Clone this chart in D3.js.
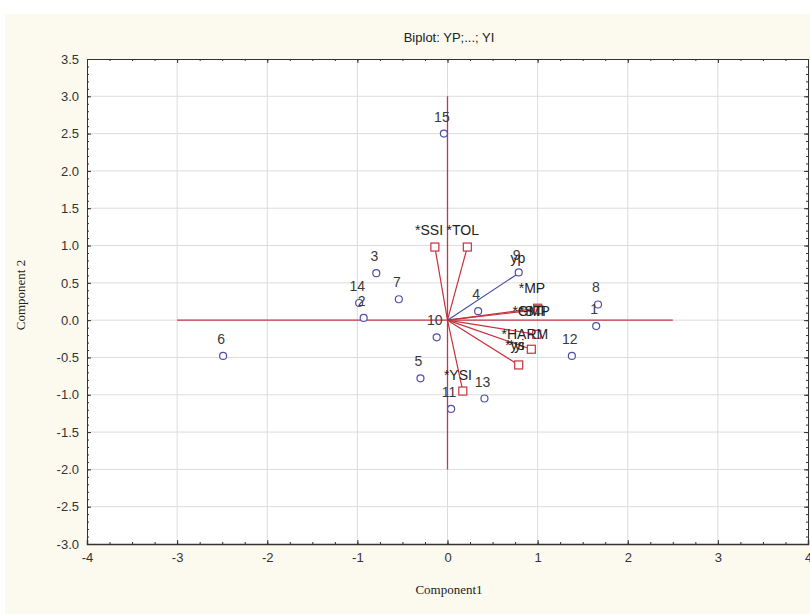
<!DOCTYPE html>
<html>
<head>
<meta charset="utf-8">
<script src="https://cdn.jsdelivr.net/npm/d3@7"></script>
<style>
  body { margin: 0; background: #fff; }
  text { font-family: 'Liberation Sans', Arial, sans-serif; }
</style>
</head>
<body>
<svg id="chart" width="810" height="614"></svg>
<script>
'use strict';

// cases (blue circles)
const caseIds = ['1', '2', '3', '4', '5', '6', '7', '8', '9', '10', '11', '12', '13', '14', '15'];
const caseX = [1.65, -0.93, -0.79, 0.34, -0.3, -2.49, -0.54, 1.67, 0.79, -0.12, 0.04, 1.38, 0.41, -0.98, -0.04];
const caseY = [-0.08, 0.03, 0.63, 0.12, -0.78, -0.48, 0.28, 0.21, 0.64, -0.23, -1.19, -0.48, -1.05, 0.23, 2.5];

// variables (red squares + vectors from origin)
const varNames = ['SSI', 'TOL', 'GMP', 'STI', 'HARM', 'ys', 'yi', 'YSI'];
const varX = [-0.14, 0.22, 1.0, 1.01, 0.99, 0.93, 0.79, 0.17];
const varY = [0.98, 0.98, 0.16, 0.14, -0.19, -0.39, -0.6, -0.95];
// where each variable label sits (data units, start of text)
const varLabelX = [-0.36, -0.01, 0.72, 0.79, 0.6, 0.64, 0.68, -0.04];
const varLabelY = [1.14, 1.14, 0.05, 0.05, -0.25, -0.4, -0.4, -0.8];

// yp vector drawn in blue, MP only as a label
const ypPoint = [0.79, 0.63];
const ypLabel = [0.7, 0.77];
const mpLabel = [0.79, 0.36];

const xTicks = [-4, -3, -2, -1, 0, 1, 2, 3, 4];
const yTicks = [-3, -2.5, -2, -1.5, -1, -0.5, 0, 0.5, 1, 1.5, 2, 2.5, 3, 3.5];

const svg = d3.select('#chart');

const x = d3.scaleLinear().domain([-4, 4]).range([87, 808]);
const y = d3.scaleLinear().domain([-3, 3.5]).range([544, 59]);

// plain hyphen for negatives, like the original
const hyphen = (f) => (d) => f(d).replace('\u2212', '-');

// cream page background
svg.append('rect')
  .attr('x', 5).attr('y', 14)
  .attr('width', 805).attr('height', 600)
  .attr('fill', '#fcf9ee');

svg.append('rect')
  .attr('x', x(-4)).attr('y', y(3.5))
  .attr('width', x(4) - x(-4)).attr('height', y(-3) - y(3.5))
  .attr('fill', '#fff');

// grid
svg.append('g')
  .selectAll('line')
  .data(xTicks.slice(1, -1))
  .join('line')
  .attr('x1', (d) => x(d)).attr('x2', (d) => x(d))
  .attr('y1', y(3.5)).attr('y2', y(-3))
  .attr('stroke', '#dcdcdc');

svg.append('g')
  .selectAll('line')
  .data(yTicks.slice(1, -1))
  .join('line')
  .attr('x1', x(-4)).attr('x2', x(4))
  .attr('y1', (d) => y(d)).attr('y2', (d) => y(d))
  .attr('stroke', '#dcdcdc');

// axes with inward ticks on all four sides
const drawAxis = (axis, tx, ty, labels) => {
  const g = svg.append('g').attr('transform', `translate(${tx},${ty})`).call(axis);
  g.select('.domain').attr('stroke', '#333');
  g.selectAll('.tick line').attr('stroke', '#333');
  g.selectAll('.tick text')
    .attr('fill', '#333')
    .style('font-size', '13px')
    .style('display', labels ? null : 'none');
  return g;
};

const minorX = d3.range(-4, 4.001, 0.25);
const minorY = d3.range(-3, 3.501, 0.1);

[
  [d3.axisBottom(x).tickValues(minorX).tickSize(-2).tickFormat(''), 0, y(-3)],
  [d3.axisTop(x).tickValues(minorX).tickSize(-2).tickFormat(''), 0, y(3.5)],
  [d3.axisLeft(y).tickValues(minorY).tickSize(-2).tickFormat(''), x(-4), 0],
  [d3.axisRight(y).tickValues(minorY).tickSize(-2).tickFormat(''), x(4), 0],
].forEach((a) => drawAxis(a[0], a[1], a[2], false));

const bottom = drawAxis(
  d3.axisBottom(x).tickValues(xTicks).tickSize(-4).tickPadding(9)
    .tickFormat(hyphen(d3.format('d'))),
  0, y(-3), true
);
bottom.select('.domain').attr('stroke-width', 1.5);
drawAxis(d3.axisTop(x).tickValues(xTicks).tickSize(-4).tickFormat(''), 0, y(3.5), false);
drawAxis(
  d3.axisLeft(y).tickValues(yTicks).tickSize(-4).tickPadding(8)
    .tickFormat(hyphen(d3.format('.1f'))),
  x(-4), 0, true
);
drawAxis(d3.axisRight(y).tickValues(yTicks).tickSize(-4).tickFormat(''), x(4), 0, false);

// red reference axes
svg.append('line')
  .attr('x1', x(-3)).attr('x2', x(2.5))
  .attr('y1', y(0)).attr('y2', y(0))
  .attr('stroke', '#c0394a').attr('stroke-width', 1.3);
svg.append('line')
  .attr('x1', x(0)).attr('x2', x(0))
  .attr('y1', y(-2)).attr('y2', y(3))
  .attr('stroke', '#c0394a').attr('stroke-width', 1.3);

const vars = varNames.map((name, i) => ({
  name: name,
  x: varX[i],
  y: varY[i],
  lx: varLabelX[i],
  ly: varLabelY[i],
}));

// variable vectors
svg.append('g')
  .selectAll('line')
  .data(vars)
  .join('line')
  .attr('x1', x(0)).attr('y1', y(0))
  .attr('x2', (d) => x(d.x)).attr('y2', (d) => y(d.y))
  .attr('stroke', '#c8323c').attr('stroke-width', 1.2);

svg.append('line')
  .attr('x1', x(0)).attr('y1', y(0))
  .attr('x2', x(ypPoint[0])).attr('y2', y(ypPoint[1]))
  .attr('stroke', '#4a4aa8').attr('stroke-width', 1.2);

svg.append('g')
  .selectAll('rect')
  .data(vars)
  .join('rect')
  .attr('x', (d) => x(d.x) - 4).attr('y', (d) => y(d.y) - 4)
  .attr('width', 8).attr('height', 8)
  .attr('fill', '#fff')
  .attr('stroke', '#c8323c').attr('stroke-width', 1.2);

// cases
const cases = caseIds.map((id, i) => ({ id: id, x: caseX[i], y: caseY[i] }));

svg.append('g')
  .selectAll('circle')
  .data(cases)
  .join('circle')
  .attr('cx', (d) => x(d.x)).attr('cy', (d) => y(d.y))
  .attr('r', 3.5)
  .attr('fill', '#fff')
  .attr('stroke', '#5050a8').attr('stroke-width', 1.2);

svg.append('g')
  .selectAll('text')
  .data(cases)
  .join('text')
  .attr('x', (d) => x(d.x) - 2)
  .attr('y', (d) => y(d.y) - 12)
  .attr('text-anchor', 'middle')
  .attr('fill', '#3a3a3a')
  .style('font-size', '14px')
  .text((d) => d.id);

// variable labels on top
const varText = (px, py, label) =>
  svg.append('text')
    .attr('x', x(px)).attr('y', y(py))
    .attr('fill', '#222')
    .style('font-size', '14px')
    .text(label);

vars.forEach((d) => varText(d.lx, d.ly, '*' + d.name));
varText(ypLabel[0], ypLabel[1], 'yp');
varText(mpLabel[0], mpLabel[1], '*MP');

// titles
svg.append('text')
  .attr('x', 449).attr('y', 42)
  .attr('text-anchor', 'middle')
  .attr('fill', '#222')
  .style('font-size', '13px')
  .text('Biplot: YP;...; YI');

svg.append('text')
  .attr('x', 449).attr('y', 594)
  .attr('text-anchor', 'middle')
  .attr('fill', '#222')
  .style('font-family', "'Liberation Serif', 'Times New Roman', serif")
  .style('font-size', '13px')
  .text('Component1');

svg.append('text')
  .attr('transform', 'translate(25,295) rotate(-90)')
  .attr('text-anchor', 'middle')
  .attr('fill', '#222')
  .style('font-family', "'Liberation Serif', 'Times New Roman', serif")
  .style('font-size', '13px')
  .text('Component 2');
</script>
</body>
</html>
